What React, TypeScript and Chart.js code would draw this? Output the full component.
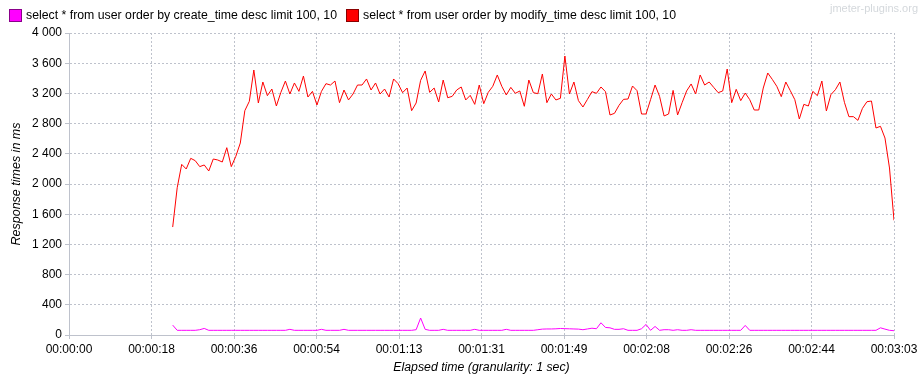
import React, { useEffect, useRef } from "react";
import { Chart, registerables } from "chart.js";

Chart.register(...registerables);

const seriesNames = [
  "select * from user order by create_time desc limit 100, 10",
  "select * from user order by modify_time desc limit 100, 10",
];
const seriesColors = ["#ff00ff", "#ff0000"];
const seriesBorders = ["#8a008a", "#8a0000"];

const startSecond = 23;

const createTimeMs = [
  131, 62, 62, 62, 62, 62, 70, 87, 62, 62,
  62, 62, 62, 62, 62, 62, 62, 62, 62, 62,
  62, 62, 62, 62, 62, 62, 75, 62, 62, 62,
  62, 62, 62, 75, 62, 62, 62, 62, 75, 62,
  62, 62, 62, 62, 62, 62, 62, 62, 62, 62,
  62, 62, 62, 62, 70, 225, 75, 62, 62, 62,
  75, 62, 62, 62, 62, 62, 62, 75, 62, 62,
  62, 62, 62, 62, 75, 62, 62, 62, 62, 62,
  62, 70, 78, 80, 80, 82, 86, 84, 82, 80,
  78, 70, 80, 90, 83, 162, 100, 95, 75, 75,
  83, 62, 62, 62, 83, 140, 62, 113, 62, 70,
  70, 62, 70, 62, 62, 70, 62, 62, 62, 62,
  62, 62, 62, 62, 62, 62, 62, 127, 62, 62,
  62, 62, 62, 62, 62, 62, 62, 62, 62, 62,
  62, 62, 62, 62, 62, 62, 62, 62, 62, 62,
  62, 62, 62, 62, 62, 62, 62, 95, 78, 62,
  57,
];

const modifyTimeMs = [
  1430, 1950, 2260, 2199, 2340, 2309, 2230, 2252, 2172, 2331,
  2318, 2291, 2481, 2230, 2366, 2543, 2971, 3095, 3510, 3073,
  3351, 3170, 3258, 3033, 3214, 3364, 3192, 3338, 3227, 3430,
  3152, 3227, 3046, 3227, 3329, 3311, 3364, 3077, 3245, 3113,
  3192, 3311, 3311, 3391, 3245, 3338, 3192, 3258, 3152, 3391,
  3329, 3210, 3271,
  2971, 3073, 3373, 3497, 3214, 3271, 3086, 3377, 3143, 3161,
  3245, 3285, 3113, 3174, 3055, 3311, 3064, 3214, 3294, 3444,
  3294, 3179, 3280, 3201, 3232, 3029, 3377, 3210, 3196, 3457,
  3077, 3192, 3113, 3135, 3695, 3192, 3351, 3104, 3020, 3121,
  3223, 3201, 3285, 3223, 2914, 2936, 3042, 3121, 3126, 3298,
  3236, 2927, 2927,
  3117, 3311, 3161, 2901, 2927, 3240, 2914, 3077, 3232, 3325,
  3192, 3444, 3311, 3351, 3280, 3210, 3232, 3523, 3077, 3254,
  3104, 3205, 3117, 2980, 2980, 3271, 3470, 3386, 3294, 3157,
  3351, 3236, 3117, 2861, 3055, 3033, 3227, 3170, 3364, 2967,
  3183, 3249, 3351, 3082, 2892, 2892, 2843, 3002, 3090, 3099,
  2742, 2764, 2609, 2212, 1519,
];

const xTickValues = [0, 18.3, 36.6, 54.9, 73.2, 91.5, 109.8, 128.1, 146.4, 164.7, 183];
const xTickLabels = [
  "00:00:00", "00:00:18", "00:00:36", "00:00:54", "00:01:13", "00:01:31",
  "00:01:49", "00:02:08", "00:02:26", "00:02:44", "00:03:03",
];
const yTickValues = [0, 400, 800, 1200, 1600, 2000, 2400, 2800, 3200, 3600, 4000];

const FONT = "'Liberation Sans', Arial, sans-serif";
const GRID = "rgb(190,194,204)";

function toPoints(values: number[]) {
  return values.map((v, i) => ({ x: startSecond + i, y: v }));
}

function formatThousands(v: number) {
  return String(Math.round(v)).replace(/\B(?=(\d{3})+(?!\d))/g, " ");
}

const legendPlugin = {
  id: "jmLegend",
  afterDraw(chart: any) {
    const ctx = chart.ctx;
    ctx.save();
    ctx.font = `12.3px ${FONT}`;
    ctx.textBaseline = "middle";
    const squareX = [9, 346];
    const y = 9;
    seriesNames.forEach((name, i) => {
      const x = squareX[i];
      ctx.fillStyle = seriesColors[i];
      ctx.fillRect(x, y, 13, 13);
      ctx.strokeStyle = seriesBorders[i];
      ctx.lineWidth = 1;
      ctx.strokeRect(x + 0.5, y + 0.5, 12, 12);
      ctx.fillStyle = "#000";
      ctx.fillText(name, x + 17, y + 7);
    });
    ctx.font = `11px ${FONT}`;
    ctx.fillStyle = "#d4d8dc";
    ctx.textAlign = "right";
    ctx.fillText("jmeter-plugins.org", 918, 9);
    ctx.restore();
  },
};

export default function App() {
  const ref = useRef<HTMLCanvasElement | null>(null);

  useEffect(() => {
    if (!ref.current) return;
    const chart = new Chart(ref.current, {
      type: "line",
      data: {
        datasets: [
          {
            label: seriesNames[0],
            data: toPoints(createTimeMs),
            borderColor: seriesColors[0],
            backgroundColor: seriesColors[0],
            borderWidth: 1,
            pointRadius: 0,
            tension: 0,
          },
          {
            label: seriesNames[1],
            data: toPoints(modifyTimeMs),
            borderColor: seriesColors[1],
            backgroundColor: seriesColors[1],
            borderWidth: 1,
            pointRadius: 0,
            tension: 0,
          },
        ],
      },
      options: {
        responsive: false,
        animation: false,
        devicePixelRatio: 1,
        layout: { padding: { top: 33, right: 29, left: 0, bottom: 0 } },
        plugins: {
          legend: { display: false },
          tooltip: { enabled: false },
        },
        scales: {
          x: {
            type: "linear",
            min: 0,
            max: 183,
            afterBuildTicks: (scale: any) => {
              scale.ticks = xTickValues.map((v) => ({ value: v }));
            },
            afterFit: (scale: any) => {
              scale.height = 46;
              scale.paddingLeft = 0;
              scale.paddingRight = 0;
            },
            ticks: {
              autoSkip: false,
              maxRotation: 0,
              padding: 3,
              color: "#000",
              font: { family: FONT, size: 12 },
              callback: (_v: any, i: number) => xTickLabels[i],
            },
            grid: {
              color: GRID,
              tickColor: GRID,
              tickLength: 4,
              tickBorderDash: [],
            },
            border: { color: GRID, width: 1, dash: [2, 2] },
            title: {
              display: true,
              text: "Elapsed time (granularity: 1 sec)",
              color: "#000",
              font: { family: FONT, size: 12.3, style: "italic" },
              padding: { top: 0, bottom: 6 },
            },
          },
          y: {
            min: 0,
            max: 4000,
            afterBuildTicks: (scale: any) => {
              scale.ticks = yTickValues.map((v) => ({ value: v }));
            },
            afterFit: (scale: any) => {
              scale.width = 69;
              scale.paddingTop = 0;
              scale.paddingBottom = 0;
            },
            ticks: {
              padding: 3,
              color: "#000",
              font: { family: FONT, size: 12 },
              callback: (v: any) => formatThousands(Number(v)),
            },
            grid: {
              color: GRID,
              tickColor: GRID,
              tickLength: 4,
              tickBorderDash: [],
            },
            border: { color: GRID, width: 1, dash: [2, 2] },
            title: {
              display: true,
              text: "Response times in ms",
              color: "#000",
              font: { family: FONT, size: 12.5, style: "italic" },
              padding: { top: 9, bottom: 0 },
            },
          },
        },
      },
      plugins: [legendPlugin],
    } as any);
    return () => chart.destroy();
  }, []);

  return (
    <div style={{ position: "fixed", left: 0, top: 0, width: 923, height: 381, background: "#fff" }}>
      <canvas ref={ref} width={923} height={381} style={{ width: 923, height: 381, display: "block" }} />
    </div>
  );
}
